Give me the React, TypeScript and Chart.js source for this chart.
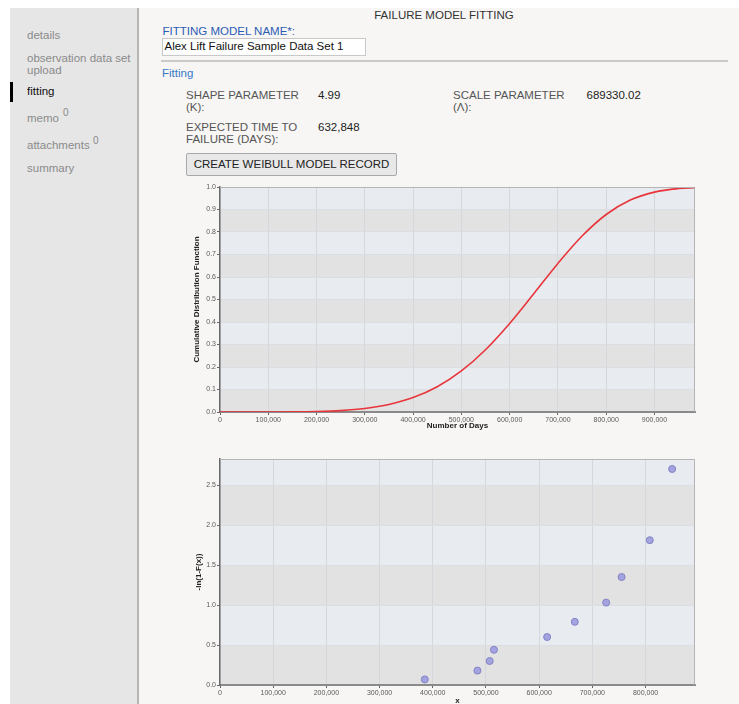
import React, { useEffect, useRef } from "react";
import { Chart, registerables } from "chart.js";

Chart.register(...registerables);

// ---- Data ----
const cdfDays = [0, 50000, 100000, 150000, 200000, 250000, 300000, 350000, 400000, 450000, 500000, 550000, 600000, 650000, 700000, 750000, 800000, 850000, 900000, 950000, 984000];
const cdfValues = [0, 0.0, 0.0001, 0.0005, 0.0021, 0.0063, 0.0156, 0.0334, 0.064, 0.1122, 0.1825, 0.2768, 0.3937, 0.5257, 0.6603, 0.782, 0.8778, 0.9419, 0.9773, 0.993, 0.9973];

const obsDays = [385000, 484000, 507000, 515000, 615000, 667000, 726000, 755000, 808000, 850000];
const obsHazard = [0.07, 0.18, 0.3, 0.44, 0.6, 0.79, 1.03, 1.35, 1.81, 2.7];

const cdfXTicks = [0, 100000, 200000, 300000, 400000, 500000, 600000, 700000, 800000, 900000];
const cdfYTicks = [0, 0.1, 0.2, 0.3, 0.4, 0.5, 0.6, 0.7, 0.8, 0.9, 1.0];
const obsXTicks = [0, 100000, 200000, 300000, 400000, 500000, 600000, 700000, 800000];
const obsYTicks = [0, 0.5, 1.0, 1.5, 2.0, 2.5];

const cdfXMax = 984000;
const cdfYMax = 1.0;
const obsXMax = 893000;
const obsYMax = 2.825;

const sideItems = ["details", "fitting", "summary"];

const FONT = '"Liberation Sans", Arial, Helvetica, sans-serif';

function fmtThousands(v: number): string {
  return String(Math.round(v)).replace(/\B(?=(\d{3})+(?!\d))/g, ",");
}

const bandsPlugin = {
  id: "bands",
  beforeDraw(chart: any) {
    const { ctx, chartArea, scales } = chart;
    const y = scales.y;
    const vals: number[] = y.ticks.map((t: any) => t.value);
    if (vals[vals.length - 1] < y.max) vals.push(y.max);
    ctx.save();
    for (let i = 0; i < vals.length - 1; i++) {
      const top = y.getPixelForValue(vals[i + 1]);
      const bot = y.getPixelForValue(vals[i]);
      ctx.fillStyle = i % 2 === 0 ? "#e2e2e2" : "#e8ebf0";
      ctx.fillRect(chartArea.left, top, chartArea.right - chartArea.left, bot - top);
    }
    ctx.restore();
  },
  afterDraw(chart: any) {
    const { ctx, chartArea } = chart;
    ctx.save();
    ctx.strokeStyle = "#b4b4b4";
    ctx.lineWidth = 1;
    ctx.beginPath();
    ctx.moveTo(chartArea.left, chartArea.top + 0.5);
    ctx.lineTo(chartArea.right - 0.5, chartArea.top + 0.5);
    ctx.lineTo(chartArea.right - 0.5, chartArea.bottom);
    ctx.stroke();
    ctx.restore();
  },
};

function axisOpts(opts: {
  max: number;
  ticks: number[];
  fmt: (v: number) => string;
  title: string;
  horizontal: boolean;
  size: number;
  titlePad: any;
}) {
  return {
    type: "linear",
    min: 0,
    max: opts.max,
    afterBuildTicks: (s: any) => {
      s.ticks = opts.ticks.map((v) => ({ value: v }));
    },
    ticks: {
      autoSkip: false,
      maxRotation: 0,
      padding: 1,
      color: "#5a5a5a",
      font: { family: FONT, size: 7 },
      callback: (v: any) => opts.fmt(Number(v)),
    },
    grid: {
      color: opts.horizontal ? "#d4d7dc" : "#dadde2",
      lineWidth: 1,
      tickColor: "#666",
      tickLength: 3,
      drawTicks: true,
    },
    border: { color: opts.horizontal ? "#8a8a8a" : "#6a6a6a", width: opts.horizontal ? 2 : 1.5 },
    title: {
      display: true,
      text: opts.title,
      color: "#222",
      font: { family: FONT, size: 8, weight: "bold" },
      padding: opts.titlePad,
    },
    afterFit: (s: any) => {
      if (opts.horizontal) s.height = opts.size;
      else s.width = opts.size;
    },
  };
}

function CdfChart() {
  const ref = useRef<HTMLCanvasElement>(null);
  useEffect(() => {
    const chart = new Chart(ref.current as HTMLCanvasElement, {
      type: "scatter",
      data: {
        datasets: [
          {
            data: cdfDays.map((x, i) => ({ x, y: cdfValues[i] })),
            showLine: true,
            borderColor: "#e8353b",
            borderWidth: 1.6,
            pointRadius: 0,
            cubicInterpolationMode: "monotone",
            fill: false,
          } as any,
        ],
      },
      options: {
        animation: false,
        responsive: false,
        maintainAspectRatio: false,
        layout: { padding: { left: 0, top: 7, right: 15, bottom: 0 } },
        plugins: { legend: { display: false }, tooltip: { enabled: false } },
        scales: {
          x: axisOpts({ max: cdfXMax, ticks: cdfXTicks, fmt: fmtThousands, title: "Number of Days", horizontal: true, size: 28, titlePad: { top: 0, bottom: 9 } }),
          y: axisOpts({ max: cdfYMax, ticks: cdfYTicks, fmt: (v) => v.toFixed(1), title: "Cumulative Distribution Function", horizontal: false, size: 40, titlePad: { top: 12, bottom: 0 } }),
        } as any,
      },
      plugins: [bandsPlugin],
    });
    return () => chart.destroy();
  }, []);
  return (
    <canvas
      ref={ref}
      width={530}
      height={260}
      style={{ position: "absolute", left: 180, top: 180, width: 530, height: 260 }}
    />
  );
}

function HazardChart() {
  const ref = useRef<HTMLCanvasElement>(null);
  useEffect(() => {
    const chart = new Chart(ref.current as HTMLCanvasElement, {
      type: "scatter",
      data: {
        datasets: [
          {
            data: obsDays.map((x, i) => ({ x, y: obsHazard[i] })),
            showLine: false,
            pointRadius: 3.5,
            pointBackgroundColor: "#a3a3df",
            pointBorderColor: "#8383c6",
            pointBorderWidth: 1,
          } as any,
        ],
      },
      options: {
        animation: false,
        responsive: false,
        maintainAspectRatio: false,
        layout: { padding: { left: 0, top: 9, right: 15, bottom: 0 } },
        plugins: { legend: { display: false }, tooltip: { enabled: false } },
        scales: {
          x: axisOpts({ max: obsXMax, ticks: obsXTicks, fmt: fmtThousands, title: "x", horizontal: true, size: 21, titlePad: { top: 0, bottom: 0 } }),
          y: axisOpts({ max: obsYMax, ticks: obsYTicks, fmt: (v) => v.toFixed(1), title: "-ln(1-F(x))", horizontal: false, size: 40, titlePad: { top: 14, bottom: 0 } }),
        } as any,
      },
      plugins: [bandsPlugin],
    });
    return () => chart.destroy();
  }, []);
  return (
    <canvas
      ref={ref}
      width={530}
      height={256}
      style={{ position: "absolute", left: 180, top: 450, width: 530, height: 256 }}
    />
  );
}

const LH = 13;
function T(props: { x: number; cy: number; color?: string; size?: number; children: any; style?: any }) {
  const size = props.size ?? 11.5;
  return (
    <div
      style={{
        position: "absolute",
        left: props.x,
        top: props.cy - LH / 2,
        lineHeight: LH + "px",
        fontSize: size,
        color: props.color ?? "#555",
        whiteSpace: "nowrap",
        ...props.style,
      }}
    >
      {props.children}
    </div>
  );
}

export default function App() {
  return (
    <div
      style={{
        position: "absolute",
        left: 0,
        top: 0,
        width: 739,
        height: 704,
        overflow: "hidden",
        background: "#ffffff",
        fontFamily: FONT,
      }}
    >
      {/* sidebar */}
      <div style={{ position: "absolute", left: 10, top: 8, width: 127, height: 696, background: "#e6e6e6" }} />
      <div style={{ position: "absolute", left: 137, top: 8, width: 2, height: 696, background: "#b5b5b5" }} />
      <div style={{ position: "absolute", left: 139, top: 8, width: 600, height: 696, background: "#f7f6f4" }} />
      <div style={{ position: "absolute", left: 10, top: 82, width: 3, height: 20, background: "#000" }} />

      <T x={27} cy={35.7} color="#8a8a8a">{sideItems[0]}</T>
      <T x={27} cy={58.3} color="#8a8a8a">observation data set</T>
      <T x={27} cy={70.8} color="#8a8a8a">upload</T>
      <T x={27} cy={91.7} color="#111">{sideItems[1]}</T>
      <T x={27} cy={118.3} color="#8a8a8a">memo</T>
      <T x={63} cy={112.8} color="#8a8a8a" size={10}>0</T>
      <T x={27} cy={145.7} color="#8a8a8a">attachments</T>
      <T x={93} cy={140.3} color="#8a8a8a" size={10}>0</T>
      <T x={27} cy={168.5} color="#8a8a8a">{sideItems[2]}</T>

      {/* header */}
      <div
        style={{
          position: "absolute",
          left: 344,
          width: 200,
          top: 15 - LH / 2,
          lineHeight: LH + "px",
          fontSize: 11.5,
          color: "#333",
          textAlign: "center",
          whiteSpace: "nowrap",
        }}
      >
        FAILURE MODEL FITTING
      </div>

      <T x={162.5} cy={31.7} color="#2c5cb5">FITTING MODEL NAME*:</T>
      <div
        style={{
          position: "absolute",
          left: 162,
          top: 38,
          width: 204,
          height: 18,
          boxSizing: "border-box",
          background: "#fff",
          border: "1px solid #c8c8c8",
        }}
      />
      <T x={164.5} cy={46.8} color="#111">Alex Lift Failure Sample Data Set 1</T>
      <div style={{ position: "absolute", left: 161, top: 60, width: 567, height: 2, background: "#cacaca" }} />
      <T x={162} cy={73.5} color="#3878c8">Fitting</T>

      <T x={186} cy={95} color="#555">SHAPE PARAMETER</T>
      <T x={186} cy={107.7} color="#555">(K):</T>
      <T x={318} cy={95} color="#222">4.99</T>
      <T x={453} cy={95} color="#555">SCALE PARAMETER</T>
      <T x={453} cy={107.7} color="#555">(Λ):</T>
      <T x={586.5} cy={95} color="#222">689330.02</T>
      <T x={186} cy={127.3} color="#555">EXPECTED TIME TO</T>
      <T x={186} cy={139.8} color="#555">FAILURE (DAYS):</T>
      <T x={318} cy={127.3} color="#222">632,848</T>

      <div
        style={{
          position: "absolute",
          left: 186,
          top: 153,
          width: 211,
          height: 23,
          boxSizing: "border-box",
          background: "#e8e8e8",
          border: "1px solid #a9a9a9",
          borderRadius: 2,
          fontSize: 11.5,
          lineHeight: "21px",
          color: "#222",
          textAlign: "center",
          whiteSpace: "nowrap",
        }}
      >
        CREATE WEIBULL MODEL RECORD
      </div>

      <CdfChart />
      <HazardChart />
    </div>
  );
}
